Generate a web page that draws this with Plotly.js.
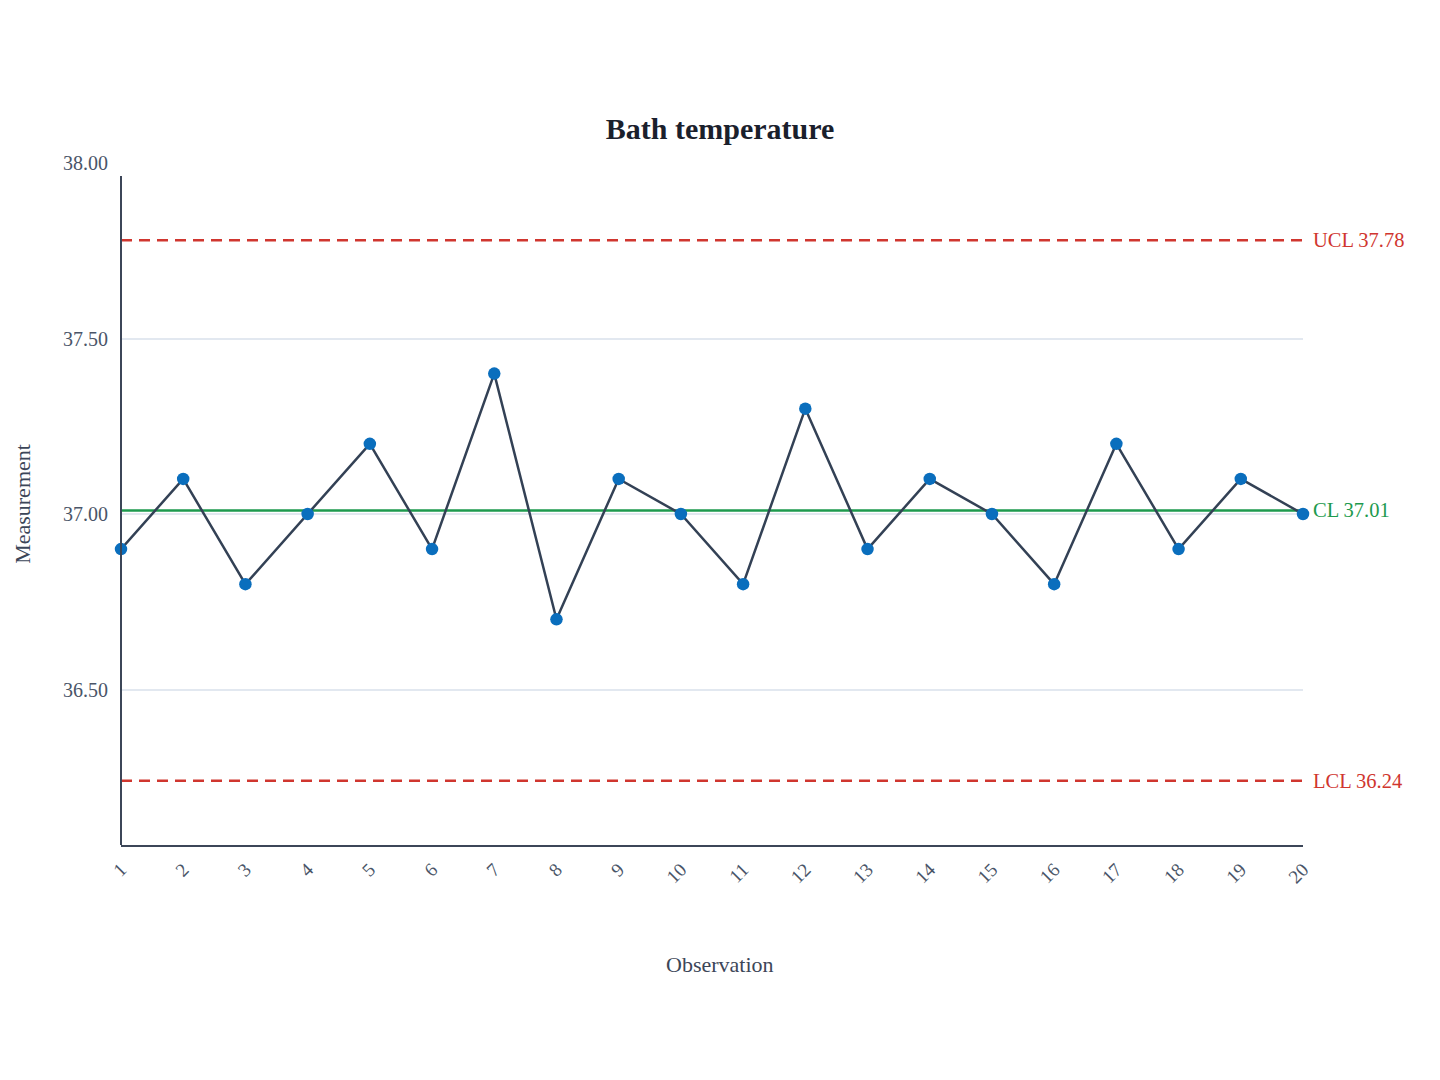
<!DOCTYPE html>
<html>
<head>
<meta charset="utf-8">
<script src="https://cdn.plot.ly/plotly-3.0.1.min.js"></script>
<style>
  html, body { margin: 0; padding: 0; background: #fff; }
  #chart { width: 1440px; height: 1080px; }
</style>
</head>
<body>
<div id="chart"></div>
<script>
var observaciones = [1, 2, 3, 4, 5, 6, 7, 8, 9, 10, 11, 12, 13, 14, 15, 16, 17, 18, 19, 20];
var medidas = [36.9, 37.1, 36.8, 37.0, 37.2, 36.9, 37.4, 36.7, 37.1, 37.0,
               36.8, 37.3, 36.9, 37.1, 37.0, 36.8, 37.2, 36.9, 37.1, 37.0];
var ucl = 37.78;
var cl = 37.01;
var lcl = 36.24;
var yRango = [36.057, 38.0];

var fuente = '"Liberation Serif", "Times New Roman", serif';
var rojo = '#d0362f';
var verde = '#1e9a4e';

var trace = {
  x: observaciones,
  y: medidas,
  type: 'scatter',
  mode: 'lines+markers',
  line: { color: '#334155', width: 2.5 },
  marker: { color: '#0a6ebd', size: 12.5 },
  cliponaxis: false,
  hoverinfo: 'x+y',
  showlegend: false
};

function lineaControl(valor, color, dash) {
  return {
    type: 'line', xref: 'paper', yref: 'y', layer: 'below',
    x0: 0, x1: 1, y0: valor, y1: valor,
    line: { color: color, width: 2.5, dash: dash }
  };
}

function etiqueta(texto, valor, color) {
  return {
    xref: 'paper', yref: 'y', x: 1, y: valor,
    xanchor: 'left', yanchor: 'middle', xshift: 8,
    text: texto, showarrow: false,
    font: { family: fuente, size: 20.5, color: color }
  };
}

var layout = {
  width: 1440,
  height: 1080,
  margin: { l: 121, r: 137, t: 163, b: 235 },
  paper_bgcolor: '#ffffff',
  plot_bgcolor: '#ffffff',
  font: { family: fuente, size: 20, color: '#4a5568' },
  title: {
    text: '<b>Bath temperature</b>',
    font: { family: fuente, size: 30, color: '#1a202c' },
    x: 0.5, xanchor: 'center',
    y: 1 - 128 / 1080, yref: 'container', yanchor: 'middle'
  },
  xaxis: {
    range: [1, 20],
    tickmode: 'array',
    tickvals: observaciones,
    ticktext: observaciones.map(String),
    tickangle: -45,
    showgrid: false,
    zeroline: false,
    showline: true,
    linecolor: '#3c4658',
    linewidth: 2,
    ticks: '',
    ticklabelstandoff: 4,
    tickfont: { family: fuente, size: 19, color: '#4a5568' },
    automargin: false
  },
  yaxis: {
    range: yRango,
    tick0: 36.5,
    dtick: 0.5,
    tickformat: '.2f',
    showgrid: true,
    gridcolor: '#e2e8f0',
    gridwidth: 1.5,
    zeroline: false,
    showline: false,
    ticks: '',
    ticklabelstandoff: 12,
    tickfont: { family: fuente, size: 20, color: '#4a5568' },
    automargin: false,
    title: { text: 'Measurement', standoff: 26, font: { family: fuente, size: 22, color: '#3c4658' } }
  },
  shapes: [
    lineaControl(ucl, rojo, '11px,7px'),
    lineaControl(lcl, rojo, '11px,7px'),
    lineaControl(cl, verde, 'solid'),
    {
      type: 'line', xref: 'paper', yref: 'y',
      x0: 0, x1: 0, y0: yRango[0], y1: 37.963,
      line: { color: '#3c4658', width: 2 }
    }
  ],
  annotations: [
    etiqueta('UCL ' + ucl.toFixed(2), ucl, rojo),
    etiqueta('CL ' + cl.toFixed(2), cl, verde),
    etiqueta('LCL ' + lcl.toFixed(2), lcl, rojo),
    {
      // titulo del eje x centrado en la pagina
      xref: 'paper', yref: 'paper', x: (720 - 121) / 1182, y: -119 / 682,
      xanchor: 'center', yanchor: 'middle', showarrow: false,
      text: 'Observation',
      font: { family: fuente, size: 22, color: '#3c4658' }
    }
  ]
};

Plotly.newPlot('chart', [trace], layout, { displayModeBar: false, responsive: false });
</script>
</body>
</html>
